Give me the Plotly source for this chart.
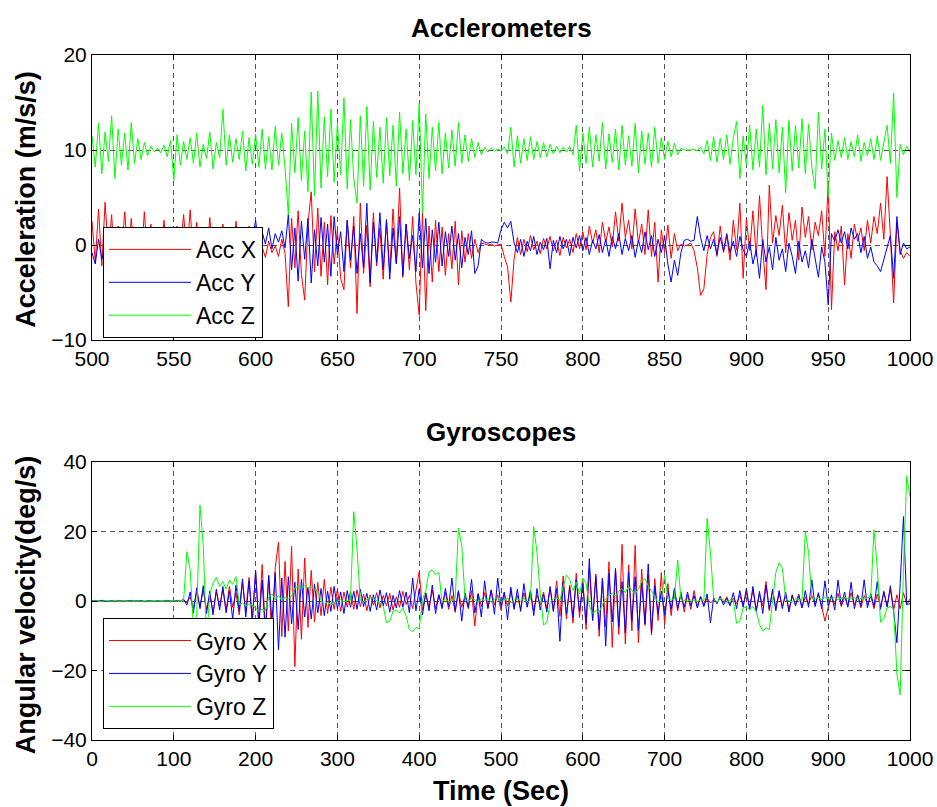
import plotly.graph_objects as go

# ---------------- data ----------------
# Accelerometers: time 500..1000 s, sample every 2 s
t_acc = list(range(500, 1001, 2))

acc_x = [
    2.5, -1.8, 3.8, -2.2, 4.5, -0.8, 3.2, -2.6, 2.0, -1.2,
    3.5, -1.5, 2.8, -0.9, 1.6, -2.0, 3.5, -1.0, 2.2, -0.6,
    1.8, -1.4, 2.6, -0.8, 1.4, -1.8, 2.0, -0.5, 3.2, -1.0,
    3.7, -1.3, 2.4, -0.7, 1.5, -1.6, 2.9, -0.9, 1.7, -1.1,
    2.2, -0.6, 1.4, -1.5, 2.5, -0.8, 1.6, -1.2, 2.0, -0.5,
    0.3, -1.0, -0.2, -1.3, 0.4, -0.8, -0.1, -1.2, 0.6, -0.9,
    -6.5, 2.8, -2.4, 3.6, -3.1, -5.8, 2.2, 5.6, -2.8, 3.9,
    -3.3, 2.4, -4.2, 3.1, -2.0, 1.6, -3.5, -4.7, 2.6, -2.4,
    3.0, -7.2, 4.4, -3.0, 2.1, -4.4, 3.4, -2.2, 1.8, -3.6,
    2.7, -2.8, 3.8, -1.9, 6.0, -3.4, 2.2, -2.6, 3.0, -4.0,
    -7.4, 3.5, -6.9, 2.0, -3.9, 2.6, -2.8, 1.9, -3.2, 1.2,
    -2.5, 2.5, -4.2, 1.5, -1.8, 1.2, -1.4, 0.6, -0.8, 0.2,
    0.1, 0.0, 0.1, -0.1, 0.0, 0.1, -1.2, -2.3, -6.0, -1.5,
    0.8, -1.0, 0.6, -0.7, 1.0, -0.5, 0.4, -0.9, 0.7, -0.4,
    0.9, -0.6, 0.5, -1.1, 0.8, -0.3, 0.6, -0.8, 1.2, -0.4,
    1.4, -0.5, 2.0, 0.2, 1.6, -0.8, 2.4, 0.3, 1.9, -0.2,
    3.5, 0.4, 4.4, 0.8, 2.6, -0.4, 3.8, 0.2, 2.2, -1.0,
    3.7, -1.2, 2.4, -3.9, 1.6, -0.8, 2.1, -1.4, 1.2, -0.6,
    0.1, -0.1, 0.0, 0.2, -0.6, -2.4, -5.3, -4.6, -1.0, 0.8,
    1.4, -1.2, 2.0, -0.8, 1.0, -1.6, 2.6, -0.5, 4.4, -3.5,
    2.8, -0.6, 3.6, -1.2, 5.2, -0.4, -4.7, 6.3, 0.2, 3.1,
    1.0, 4.2, -0.8, 3.4, 0.5, 2.6, -1.6, 4.0, 0.8, 3.0,
    -0.5, 2.4, 1.0, 3.6, -1.2, 6.7, -6.8, 1.4, -0.6, 2.0,
    -4.2, 1.2, -1.4, 2.2, 0.4, 1.8, -0.6, 2.6, 0.2, 3.0,
    1.2, 4.4, 0.6, 7.2, 1.0, -6.1, 2.4, -0.6, -1.4, -0.8,
    -1.2,
]

acc_y = [
    -0.8, -2.0, 0.6, -1.5, -0.2, -2.3, 0.9, -1.2, -0.4, -1.8,
    0.2, -1.4, -0.6, -2.0, 0.5, -1.0, -0.3, -1.6, 0.4, -0.9,
    -0.2, -1.2, 0.3, -0.8, -0.5, -1.3, 0.6, -0.6, -0.1, -1.0,
    0.4, -0.7, -0.2, -1.1, 0.5, -0.4, -0.9, 0.3, -0.6, 0.1,
    -0.5, 0.4, -0.8, 0.2, -0.3, 0.6, -0.7, 0.3, -0.2, 0.5,
    2.6, -0.2, 1.4, 0.1, 1.8, -0.4, 1.2, 0.3, 1.5, -0.3,
    3.2, -2.6, 1.8, -3.8, 2.5, -1.5, 2.8, -4.0, 1.6, -2.2,
    2.9, -1.8, 2.2, -3.3, 3.0, -1.0, 1.4, -2.8, 2.6, -1.6,
    2.0, -3.0, 1.2, -2.4, 4.4, -4.0, 2.4, -1.8, 3.4, -2.6,
    2.6, -3.6, 1.8, -2.0, 3.0, -3.2, 2.2, -1.4, 1.0, -2.8,
    3.4, -2.4, 2.8, -3.0, 1.6, -1.8, 2.4, -2.2, 1.4, -1.2,
    2.0, -1.6, 1.2, -2.4, 0.8, -1.0, 1.5, -3.0, -2.2, 0.6,
    0.3, 0.2, 0.3, 0.3, 0.2, 1.6, 2.4, 1.8, 2.5, 0.2,
    -0.8, 0.6, -1.2, 0.4, -0.6, 0.9, -1.0, 0.3, -0.5, 0.7,
    -2.5, 0.5, -0.8, 0.9, -0.4, 0.6, -1.1, 0.8, -0.3, 1.0,
    -0.6, 0.8, -1.0, 0.5, -0.4, 1.1, -0.8, 0.6, -1.2, 0.9,
    -0.4, 1.2, -1.0, 0.7, -0.6, 1.0, -1.3, 0.5, -0.8, 1.4,
    -0.5, 1.0, -1.2, 0.6, -0.8, 0.9, -2.0, -3.9, -1.6, -3.2,
    -0.8, 0.5, 0.6, 0.4, 0.5, 3.0, 0.8, -0.6, 1.0, -0.4,
    0.6, -1.0, 0.8, -0.6, 1.2, -0.8, 0.4, -1.2, 0.9, -0.5,
    -1.2, 0.4, -2.0, -0.5, -3.5, 0.6, -1.8, -0.2, -2.6, 0.8,
    -1.6, -0.4, -2.8, 0.2, -1.2, -3.0, 0.4, -1.8, -0.6, -2.4,
    0.6, -1.4, -3.4, -0.2, -1.8, -6.3, 1.2, 0.4, 1.6, 0.2,
    1.4, -0.4, 1.8, 0.6, 1.2, -0.8, 0.9, -1.4, -0.2, -1.8,
    -2.2, -2.8, -1.6, -0.4, 1.0, -3.5, 3.0, -1.0, 0.2, -0.4,
    -0.2,
]

acc_z = [
    11.5, 8.2, 12.8, 7.5, 11.9, 8.8, 13.6, 7.0, 12.2, 8.4,
    11.8, 7.9, 12.9, 8.6, 11.2, 9.0, 10.8, 9.4, 10.4, 9.8,
    10.2, 9.7, 10.5, 9.3, 11.0, 6.8, 11.6, 8.4, 10.9, 9.0,
    11.3, 8.6, 11.8, 8.2, 10.6, 9.1, 11.9, 8.0, 10.8, 9.2,
    14.3, 8.4, 11.6, 8.7, 11.2, 9.0, 12.0, 7.8, 11.3, 8.5,
    11.7, 8.2, 12.2, 8.0, 11.4, 7.9, 12.5, 8.4, 11.8, 8.1,
    3.2, 12.8, 7.6, 13.4, 6.8, 12.0, 5.6, 16.1, 5.2, 16.2,
    6.0, 13.5, 7.2, 14.3, 6.6, 12.8, 7.4, 15.5, 5.9, 13.2,
    7.0, 4.4, 13.6, 6.2, 14.6, 5.8, 13.0, 7.1, 12.4, 6.5,
    13.4, 7.3, 12.6, 6.2, 14.0, 7.5, 12.2, 6.8, 13.1, 7.4,
    14.9, 3.4, 13.8, 7.0, 12.4, 7.8, 12.9, 7.5, 11.8, 8.1,
    12.1, 8.3, 12.9, 8.6, 11.6, 8.8, 11.2, 9.2, 10.8, 9.5,
    10.3, 9.8, 10.2, 9.9, 10.1, 9.9, 10.3, 9.6, 12.4, 8.2,
    11.5, 8.6, 11.2, 8.9, 11.4, 9.0, 10.9, 9.2, 10.8, 9.3,
    10.6, 9.6, 10.4, 9.7, 10.3, 9.8, 10.4, 9.5, 12.6, 7.8,
    11.8, 8.6, 12.4, 8.2, 11.6, 8.8, 12.9, 8.0, 11.7, 8.7,
    12.2, 7.9, 12.6, 8.4, 11.5, 8.3, 12.8, 7.6, 12.0, 8.5,
    11.8, 8.2, 12.4, 8.6, 11.3, 9.0, 10.9, 9.3, 10.7, 9.5,
    10.2, 10.0, 10.0, 10.0, 10.1, 9.9, 10.3, 9.6, 11.0, 8.9,
    11.4, 8.7, 11.2, 9.0, 11.6, 8.5, 11.3, 13.0, 7.0, 11.5,
    8.4, 12.6, 7.9, 12.2, 8.2, 14.7, 7.4, 12.8, 8.0, 13.2,
    7.6, 12.4, 5.5, 13.1, 7.8, 12.6, 8.1, 13.3, 7.5, 12.7,
    8.2, 5.9, 14.0, 8.0, 12.2, 5.1, 11.8, 8.9, 11.0, 9.2,
    11.3, 9.0, 10.9, 9.3, 11.6, 8.8, 10.8, 9.4, 11.2, 9.0,
    11.5, 8.9, 10.8, 12.6, 8.6, 16.0, 5.0, 10.6, 9.5, 10.4,
    9.8,
]

# Gyroscopes: time 0..1000 s, sample every 4 s
t_gyro = list(range(0, 1001, 4))

gyro_x = [
    0.0, 0.2, -0.1, 0.1, 0.0, -0.2, 0.1, 0.0, 0.2, -0.1,
    0.0, 0.1, -0.2, 0.1, 0.0, 0.2, -0.1, 0.0, 0.1, -0.1,
    0.1, 0.0, -0.1, 0.2, 0.0, -0.1, 0.1, 0.0, 0.3, -0.5,
    1.2, -2.0, 2.5, -1.6, 3.0, -2.4, 1.8, -3.2, 2.6, -1.5,
    3.4, -2.8, 4.2, -1.8, 2.4, -4.0, 5.5, -3.0, 6.8, -5.2,
    8.4, -6.8, 10.5, -9.0, 7.2, -12.0, 9.6, 17.0, -10.2, 11.4,
    -8.6, 15.8, -18.9, 9.2, -11.0, 12.4, -7.6, 8.8, -6.0, 5.4,
    -4.2, 6.2, -3.6, 4.0, -2.4, 3.4, -3.0, 2.6, -1.8, 2.8,
    -2.4, 3.2, -1.6, 2.0, -2.8, 1.8, -1.2, 2.4, -2.0, 1.6,
    -1.4, 2.2, -2.6, 1.2, -1.8, 2.8, -1.0, 1.6, -2.2, 3.0,
    8.4, -2.6, 2.4, -1.8, 3.2, -2.2, 1.8, -1.4, 2.6, -2.4,
    1.6, -3.3, 2.8, -1.8, 1.4, -2.2, 3.0, -7.2, 2.2, -1.6,
    2.4, -2.0, 3.2, -1.2, 1.8, -2.6, 2.2, -1.4, 2.8, -1.8,
    1.6, -2.4, 2.4, -1.6, 3.0, -2.8, 1.8, -1.2, 2.6, -2.2,
    3.6, -3.0, 5.8, -4.4, 7.2, -5.2, 4.6, -6.4, 8.0, -4.8,
    6.2, -8.2, 9.4, -5.6, 7.8, -10.2, 6.6, -7.4, 11.3, -13.3,
    9.0, -9.6, 16.3, -12.4, 10.4, -8.6, 16.0, -12.0, 9.2, -7.0,
    7.6, -9.8, 6.4, -5.6, 8.2, -6.8, 5.0, -4.2, 3.4, -2.8,
    2.6, -3.2, 1.8, -2.4, 3.0, -1.6, 1.4, -1.2, 0.8, -0.6,
    0.4, -0.3, 0.6, -0.5, 1.2, -1.0, 0.8, -0.7, 1.6, -1.2,
    2.4, -1.8, 3.2, -2.6, 2.0, -1.4, 5.6, -2.8, 3.0, -2.0,
    2.2, -1.6, 1.8, -2.4, 1.4, -1.0, 2.0, -1.8, 1.2, -0.8,
    1.6, -1.2, 2.0, -1.4, -5.8, -1.8, 1.4, -1.0, 2.2, -1.6,
    1.2, -1.4, 2.4, -1.2, 1.8, -2.0, 1.6, -1.0, 1.4, -2.2,
    2.0, -1.8, 2.6, -1.4, 3.4, -2.6, 1.8, -2.2, 2.4, -1.0,
    0.6,
]

gyro_y = [
    0.1, -0.1, 0.0, 0.2, -0.1, 0.0, 0.1, -0.2, 0.0, 0.1,
    -0.1, 0.0, 0.2, -0.1, 0.0, 0.1, -0.2, 0.1, 0.0, -0.1,
    0.1, -0.1, 0.0, 0.1, -0.2, 0.0, 0.1, -0.1, 0.5, -1.2,
    2.6, -3.4, 3.8, -2.2, 4.4, -3.6, 2.8, -4.0, 3.4, -2.6,
    4.2, -3.4, 3.0, -5.2, 4.6, -2.8, 6.4, -4.6, 5.8, -6.2,
    8.8, -7.4, 6.0, -9.6, 7.4, -5.8, 8.2, -14.0, 6.6, -10.4,
    7.0, -6.6, 5.4, -8.2, 6.2, -4.6, 4.0, -5.2, 4.8, -3.4,
    3.6, -4.2, 2.8, -3.0, 4.2, -2.2, 2.6, -3.6, 3.0, -1.8,
    2.8, -2.4, 3.4, -1.6, 2.2, -3.0, 1.8, -2.6, 3.2, -1.4,
    2.4, -3.2, 1.6, -2.0, 3.0, -1.8, 2.6, -3.4, 6.6, -2.8,
    3.4, -4.0, 2.2, -2.8, 4.6, -3.6, 1.8, -2.2, 3.6, -1.6,
    6.6, -2.8, 3.0, -5.8, 2.4, -1.8, 6.2, -3.4, 2.0, -4.6,
    5.8, -2.2, 3.2, -3.8, 6.6, -1.6, 2.6, -5.4, 4.0, -2.4,
    3.4, -3.0, 5.0, -1.8, 2.8, -4.2, 3.6, -2.6, 2.0, -3.2,
    4.2, -2.8, 3.6, -11.6, 5.4, -3.8, 4.0, -4.8, 6.2, -3.2,
    5.0, -6.4, 12.2, -5.6, 7.0, -8.2, 6.4, -13.0, 8.0, -6.0,
    9.4, -7.6, 5.6, -9.2, 8.4, -5.8, 7.0, -8.4, 5.2, -6.6,
    10.7, -9.1, 4.4, -3.6, 2.8, -4.0, 3.0, -2.4, 3.6, -2.2,
    2.0, -1.8, 2.6, -1.4, 1.6, -2.0, 1.2, -1.6, 2.0, -6.3,
    1.0, -0.8, 1.4, -1.2, 0.8, -1.4, 2.4, -2.2, 3.0, -1.8,
    3.6, -2.6, 4.2, -3.0, 2.8, -3.6, 4.6, -2.4, 3.4, -2.8,
    3.0, -2.2, 2.6, -3.2, 1.8, -1.4, 1.6, -2.0, 3.0, -1.8,
    6.1, -1.6, 2.4, -2.2, 5.8, -1.4, 1.8, -2.6, 6.0, -1.2,
    2.6, -1.8, 5.4, -2.2, 1.6, -1.4, 6.1, -2.0, 2.2, -1.6,
    5.6, -2.4, 2.8, -1.8, 4.4, -3.0, -12.0, 5.0, 24.3, -1.0,
    -0.8,
]

gyro_z = [
    0.0, 0.1, 0.0, -0.1, 0.1, 0.0, 0.0, 0.1, -0.1, 0.0,
    0.1, 0.0, -0.1, 0.0, 0.1, 0.0, 0.0, -0.1, 0.1, 0.0,
    0.0, 0.1, 0.0, -0.1, 0.0, 0.1, 0.0, 0.0, 0.2, 14.2,
    9.0, -7.8, -4.0, 27.6, 16.0, -11.0, 2.0, 5.2, 6.8, 4.2,
    5.6, 3.4, 6.0, 4.8, 7.0, -1.0, -0.6, -1.4, -0.8, -1.2,
    -2.0, -3.0, -2.4, -2.8, 1.2, 2.0, 0.4, 1.6, 0.2, 1.0,
    0.6, 1.4, 3.8, 4.2, 3.6, 4.4, 3.8, 4.0, 3.4, 2.8,
    0.2, -0.8, -0.4, -1.0, -0.6, 0.0, 0.4, -0.2, 0.0, 0.3,
    25.7, 15.0, 0.2, -0.4, 0.6, 1.2, 0.8, 0.2, -0.6, -1.4,
    -6.3, -5.8, -3.0, -2.6, -3.4, -2.0, -4.4, -8.2, -8.8, -7.6,
    -8.0, 0.5, 3.0, 8.4, 8.9, 7.6, 8.2, -0.4, 0.6, -0.2,
    0.4, 0.8, 21.0, 16.0, 0.6, -0.2, 0.8, 0.4, -0.4, 0.6,
    0.2, 0.8, -0.4, 0.6, 1.0, -0.2, 0.4, 0.8, -0.6, 0.4,
    0.6, 0.0, 0.8, -0.4, 0.4, 21.4, 14.0, 2.0, -6.9, -6.2,
    -0.4, 0.6, 1.0, 0.2, 4.0, 7.5, 6.2, 3.0, 5.4, 2.0,
    6.6, 5.2, -1.4, -3.6, -2.8, -3.2, -1.0, 0.6, 1.6, 2.2,
    1.4, 2.8, 3.6, 2.4, 4.2, 3.0, 2.2, 3.4, 5.6, 6.4,
    4.4, 2.8, 1.0, -0.4, 0.4, 7.4, 1.0, 0.2, 0.6, 11.8,
    0.4, 0.2, 0.0, 0.3, 0.2, -0.2, 0.4, 0.1, 23.8, 14.0,
    0.6, -0.4, 0.8, 0.2, -0.6, 0.4, 0.2, -6.4, -5.8, -2.0,
    -1.8, -2.4, -1.6, -3.0, -6.8, -8.6, -7.8, -8.2, 0.4, 8.2,
    11.0, 9.4, 0.6, 0.2, -0.4, 0.6, 0.4, 0.2, 20.0, 14.0,
    0.8, 0.6, 1.0, 0.4, 1.2, 0.6, 0.8, 1.0, 0.4, 0.8,
    1.2, 0.6, 0.8, 1.0, 0.4, 0.8, 0.6, 1.0, 1.2, 20.5,
    9.6, -6.1, -5.0, -2.0, -1.6, -2.2, -21.0, -27.0, 9.6, 36.0,
    30.0,
]

acc_ticks = [500, 550, 600, 650, 700, 750, 800, 850, 900, 950, 1000]
gyro_ticks = [0, 100, 200, 300, 400, 500, 600, 700, 800, 900, 1000]

RED, BLUE, GREEN = "#ff0000", "#0000ff", "#00ff00"
FONT = "Liberation Sans, Arial, sans-serif"

# ---------------- figure ----------------
fig = go.Figure()

for name, y, c in [("Acc X", acc_x, RED), ("Acc Y", acc_y, BLUE), ("Acc Z", acc_z, GREEN)]:
    fig.add_trace(go.Scatter(x=t_acc, y=y, mode="lines", name=name,
                             line=dict(color=c, width=1),
                             xaxis="x", yaxis="y", legend="legend"))

for name, y, c in [("Gyro X", gyro_x, RED), ("Gyro Y", gyro_y, BLUE), ("Gyro Z", gyro_z, GREEN)]:
    fig.add_trace(go.Scatter(x=t_gyro, y=y, mode="lines", name=name,
                             line=dict(color=c, width=1),
                             xaxis="x2", yaxis="y2", legend="legend2"))

axis_common = dict(
    showline=True, linecolor="black", linewidth=1, mirror="allticks",
    ticks="inside", ticklen=5, tickcolor="black", automargin=False,
    showgrid=True, gridcolor="#555555", gridwidth=1, griddash="5px,4px",
    zeroline=False, tickfont=dict(family=FONT, size=21, color="black"),
)

legend_common = dict(
    xanchor="left", yanchor="top",
    bgcolor="white", bordercolor="black", borderwidth=1,
    font=dict(family=FONT, size=23, color="black"),
    itemwidth=82, tracegroupgap=0,
)

def ann(text, x, y, size=27, angle=0):
    return dict(text=f"<b>{text}</b>", x=x, y=y, xref="paper", yref="paper",
                xanchor="center", yanchor="middle", textangle=angle,
                showarrow=False, font=dict(family=FONT, size=size, color="black"))

fig.update_layout(
    template="none",
    width=937, height=807,
    margin=dict(l=92, r=27, t=55, b=67, autoexpand=False),
    paper_bgcolor="white", plot_bgcolor="white",
    font=dict(family=FONT, color="black"),
    xaxis=dict(domain=[0, 1], anchor="y", range=[500, 1000], tickvals=acc_ticks, **axis_common),
    yaxis=dict(domain=[0.5839, 1], anchor="x", range=[-10, 20], tickvals=[-10, 0, 10, 20], **axis_common),
    xaxis2=dict(domain=[0, 1], anchor="y2", range=[0, 1000], tickvals=gyro_ticks, **axis_common),
    yaxis2=dict(domain=[0, 0.4058], anchor="x2", range=[-40, 40], tickvals=[-40, -20, 0, 20, 40], **axis_common),
    legend=dict(x=0.0134, y=0.749, **legend_common),
    legend2=dict(x=0.0134, y=0.178, **legend_common),
    showlegend=True,
    annotations=[
        ann("Acclerometers", 0.5, 1.0394, 26),
        ann("Gyroscopes", 0.5, 0.4496, 26),
        ann("Acceleration (m/s/s)", -0.0807, 0.79, 27, -90),
        ann("Angular velocity(deg/s)", -0.0807, 0.198, 27, -90),
        ann("Time (Sec)", 0.5, -0.0745, 27),
    ],
)

# remove the default 8px page margin so the figure fills the window exactly
fig.write_html(
    "out.html",
    config={"displayModeBar": False},
    post_script="document.body.style.margin='0';document.body.style.overflow='hidden';",
)
